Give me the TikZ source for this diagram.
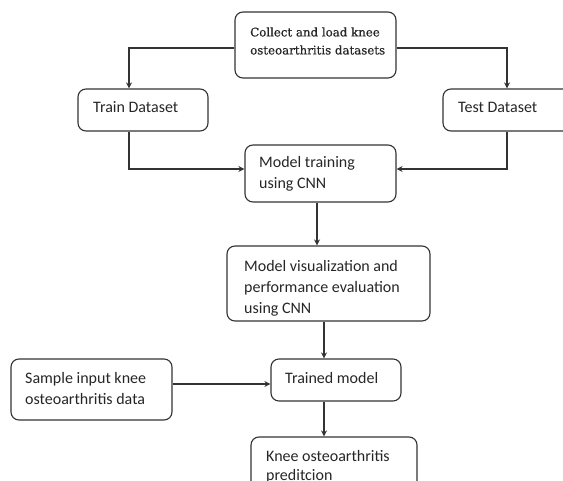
\documentclass[tikz,border=0pt]{standalone}
\usepackage{fontspec}
\setmainfont{Carlito}
\newfontfamily\serifbox[FakeBold=0.6]{DejaVu Serif}
\usetikzlibrary{arrows.meta,calc}
\definecolor{ln}{HTML}{333333}
\tikzset{
  box/.style={draw=ln, line width=1.1pt, rounded corners=8pt, inner sep=0pt},
  lbl/.style={anchor=west, inner sep=0pt, font=\fontsize{16}{21}\selectfont, text=black!85},
  slbl/.style={anchor=west, inner sep=0pt, font=\serifbox\fontsize{11.8}{18}\selectfont, text=black!85},
  arr/.style={draw=ln, line width=1.1pt, -{Stealth[length=6pt,width=6pt]}}
}
\begin{document}
\begin{tikzpicture}[x=1pt,y=-1pt]
\useasboundingbox (0,0) rectangle (563,481);
\clip (0,0) rectangle (563,481);
% boxes
\node[box, minimum width=161pt, minimum height=66pt] (collect) at (315.5,45) {};
\node[box, minimum width=130pt, minimum height=42pt] (train) at (143,110) {};
\node[box, minimum width=140pt, minimum height=42pt] (test) at (513,110) {};
\node[box, minimum width=151pt, minimum height=57pt] (mtrain) at (320.5,173.5) {};
\node[box, minimum width=203pt, minimum height=75pt] (vis) at (328.5,283.5) {};
\node[box, minimum width=130pt, minimum height=42pt] (trained) at (336,380) {};
\node[box, minimum width=161pt, minimum height=61pt] (sample) at (91.5,389.5) {};
\node[box, minimum width=166pt, minimum height=70pt] (knee) at (334,472) {};
% labels
\node[slbl] at (250,32) {Collect and load knee};
\node[slbl] at (250,50) {osteoarthritis datasets};
\node[lbl] at (93,107) {Train Dataset};
\node[lbl] at (458,107) {Test Dataset};
\node[lbl] at (259,163) {Model training};
\node[lbl] at (259,184) {using CNN};
\node[lbl] at (244,266) {Model visualization and};
\node[lbl] at (244,288) {performance evaluation};
\node[lbl] at (244,309) {using CNN};
\node[lbl] at (285,378) {Trained model};
\node[lbl] at (25,379) {Sample input knee};
\node[lbl] at (25,399) {osteoarthritis data};
\node[lbl] at (266,456) {Knee osteoarthritis};
\node[lbl] at (266,476) {preditcion};
% connectors
\draw[arr] (collect.west |- 0,48) -| (train.north -| 129,0);
\draw[arr] (collect.east |- 0,48) -| (test.north -| 507,0);
\draw[arr] (train.south -| 129,0) |- (mtrain.west |- 0,169);
\draw[arr] (test.south -| 507,0) |- (mtrain.east |- 0,169);
\draw[arr] (mtrain.south -| 317,0) -- (vis.north -| 317,0);
\draw[arr] (vis.south -| 324,0) -- (trained.north -| 324,0);
\draw[arr] (sample.east |- 0,384) -- (trained.west |- 0,384);
\draw[arr] (trained.south -| 324,0) -- (knee.north -| 324,0);
\end{tikzpicture}
\end{document}
